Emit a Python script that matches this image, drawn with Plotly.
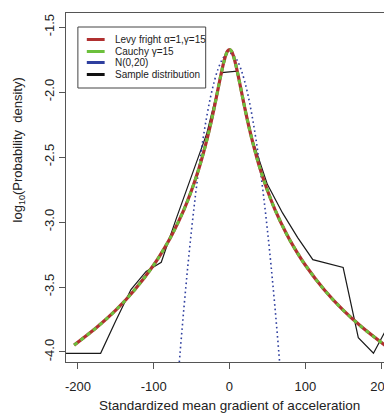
import plotly.graph_objects as go

# ---- data ----
levy_x = [-205, -175, -150, -125, -100, -85, -75, -60, -50, -40, -35, -30, -25, -20, -17.5, -15, -12.5,
          -10, -7.5, -5, -2.5, 0, 2.5, 5, 7.5, 10, 12.5, 15, 17.5, 20, 25, 30, 35, 40, 50, 60, 75, 85,
          100, 125, 150, 175, 205]
levy_y = [-3.947, -3.810, -3.678, -3.521, -3.331, -3.193, -3.088, -2.904, -2.756, -2.582, -2.482, -2.372,
          -2.251, -2.117, -2.046, -1.974, -1.902, -1.833, -1.770, -1.719, -1.685, -1.673, -1.685, -1.719,
          -1.770, -1.833, -1.902, -1.974, -2.046, -2.117, -2.251, -2.372, -2.482, -2.582, -2.756, -2.904,
          -3.088, -3.193, -3.331, -3.521, -3.678, -3.810, -3.947]
cauchy_x = levy_x
cauchy_y = levy_y

normal_x = [-70, -65, -60, -55, -50, -45, -40, -35, -30, -25, -20, -15, -10, -5, 0,
            5, 10, 15, 20, 25, 30, 35, 40, 45, 50, 55, 60, 65, 70]
normal_y = [-4.361, -3.994, -3.655, -3.343, -3.058, -2.800, -2.569, -2.365, -2.189, -2.039, -1.917, -1.822,
            -1.754, -1.714, -1.700, -1.714, -1.754, -1.822, -1.917, -2.039, -2.189, -2.365, -2.569, -2.800,
            -3.058, -3.343, -3.655, -3.994, -4.361]

sample_x = [-230, -210, -190, -170, -150, -130, -110, -90, -70, -50, -30, -10, 10, 30, 50, 70, 90,
            110, 130, 150, 170, 190, 210, 230]
sample_y = [-4.01, -4.01, -4.01, -4.01, -3.76, -3.52, -3.38, -3.31, -2.97, -2.64, -2.32, -1.85, -1.84,
            -2.36, -2.71, -2.93, -3.12, -3.29, -3.32, -3.35, -3.89, -4.01, -3.79, -3.57]

x_ticks = [-200, -100, 0, 100, 200]
y_ticks = [-4.0, -3.5, -3.0, -2.5, -2.0, -1.5]

legend_labels = ["Levy fright \u03b1=1,\u03b3=15", "Cauchy \u03b3=15", "N(0,20)", "Sample distribution"]
legend_colors = ["#b03030", "#6cc03c", "#2f3f9f", "#111111"]

# ---- figure ----
# page body has an 8px margin, so the figure is offset by 8px
OFF = 8
W, H = 392 - OFF, 419 - OFF
L, T, R, B = 66 - OFF, 13 - OFF, 392 - OFF, 362 - OFF
FONT = "Liberation Sans, Arial, sans-serif"

fig = go.Figure()
fig.add_trace(go.Scatter(x=sample_x, y=sample_y, mode="lines",
                         line=dict(color="#1a1a1a", width=1.2), showlegend=False))
fig.add_trace(go.Scatter(x=normal_x, y=normal_y, mode="lines", line_shape="spline",
                         line=dict(color=legend_colors[2], width=1.6, dash="1.6px,3px"), showlegend=False))
fig.add_trace(go.Scatter(x=levy_x, y=levy_y, mode="lines", line_shape="spline",
                         line=dict(color=legend_colors[0], width=3.2), showlegend=False))
fig.add_trace(go.Scatter(x=cauchy_x, y=cauchy_y, mode="lines", line_shape="spline",
                         line=dict(color=legend_colors[1], width=3.0, dash="4px,4px"), showlegend=False))


def px2paper(px, py):
    # px, py given in reference-picture pixels
    px -= OFF
    py -= OFF
    return (px - L) / (R - L), (B - py) / (B - T)


shapes = []
annotations = []
# manual legend
bx0, by0 = px2paper(78, 27)
bx1, by1 = px2paper(207, 88)
shapes.append(dict(type="rect", xref="paper", yref="paper", x0=bx0, x1=bx1, y0=by1, y1=by0,
                   line=dict(color="#444444", width=1), fillcolor="white", layer="above"))
rows = [39.5, 51.5, 62.5, 74.5]
for lab, col, ry in zip(legend_labels, legend_colors, rows):
    lx0, ly = px2paper(87, ry)
    lx1, _ = px2paper(105, ry)
    shapes.append(dict(type="line", xref="paper", yref="paper", x0=lx0, x1=lx1, y0=ly, y1=ly,
                       line=dict(color=col, width=3), layer="above"))
    tx, _ = px2paper(113, ry)
    annotations.append(dict(xref="paper", yref="paper", x=tx, y=ly, text=lab, showarrow=False,
                            xanchor="left", yanchor="middle", font=dict(family=FONT, size=10, color="#222")))

# axis titles
ax, ay = px2paper(18, 150)
annotations.append(dict(xref="paper", yref="paper", x=ax, y=ay, textangle=-90, showarrow=False,
                        xanchor="center", yanchor="middle",
                        text="log<sub>10</sub>(Probability\u00a0\u00a0density)",
                        font=dict(family=FONT, size=13, color="#222")))
tx, ty = px2paper(231, 405)
annotations.append(dict(xref="paper", yref="paper", x=tx, y=ty, showarrow=False,
                        xanchor="center", yanchor="middle",
                        text="Standardized mean gradient of acceleration",
                        font=dict(family=FONT, size=13.5, color="#222")))

fig.update_layout(
    width=W, height=H,
    margin=dict(l=L, r=W - R, t=T, b=H - B, pad=0),
    plot_bgcolor="white", paper_bgcolor="white",
    shapes=shapes, annotations=annotations,
    showlegend=False,
    font=dict(family=FONT, size=13, color="#222"),
    xaxis=dict(range=[-215.7, 210.5], tickvals=x_ticks, ticktext=[str(v) for v in x_ticks],
               showgrid=False, zeroline=False, showline=True, mirror=True, linecolor="#555",
               linewidth=1, ticks="outside", ticklen=6, tickcolor="#555", ticklabelstandoff=6,
               ticklabeloverflow="allow",
               tickfont=dict(family=FONT, size=13, color="#222")),
    yaxis=dict(range=[-4.077, -1.392], tickvals=y_ticks, ticktext=["%.1f" % v for v in y_ticks],
               showgrid=False, zeroline=False, showline=True, mirror=False, linecolor="#555",
               linewidth=1, ticks="outside", ticklen=6, tickcolor="#555", tickangle=-90,
               tickfont=dict(family=FONT, size=13, color="#222")),
)

fig.write_html("out.html")
